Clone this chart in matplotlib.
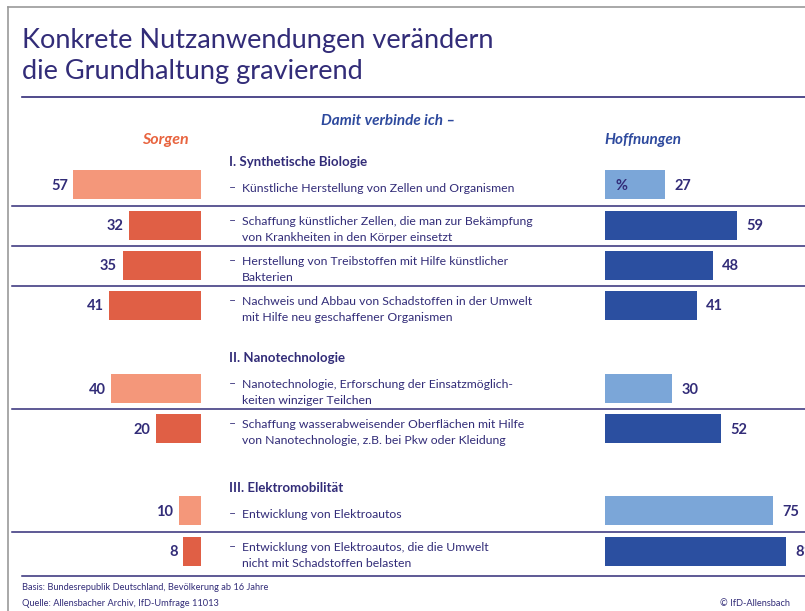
import matplotlib
matplotlib.use("Agg")
import matplotlib.pyplot as plt

plt.rcParams["font.family"] = ["Lato", "DejaVu Sans"]

# data
items = [
    "Künstliche Herstellung von Zellen und Organismen",
    "Schaffung künstlicher Zellen, die man zur Bekämpfung\nvon Krankheiten in den Körper einsetzt",
    "Herstellung von Treibstoffen mit Hilfe künstlicher\nBakterien",
    "Nachweis und Abbau von Schadstoffen in der Umwelt\nmit Hilfe neu geschaffener Organismen",
    "Nanotechnologie, Erforschung der Einsatzmöglich-\nkeiten winziger Teilchen",
    "Schaffung wasserabweisender Oberflächen mit Hilfe\nvon Nanotechnologie, z.B. bei Pkw oder Kleidung",
    "Entwicklung von Elektroautos",
    "Entwicklung von Elektroautos, die die Umwelt\nnicht mit Schadstoffen belasten",
]
sorgen = [57, 32, 35, 41, 40, 20, 10, 8]
hoffnungen = [27, 59, 48, 41, 30, 52, 75, 81]
sections = ["I. Synthetische Biologie", "II. Nanotechnologie", "III. Elektromobilität"]
section_first = [0, 4, 6]

# layout (pixels)
W, H = 805, 611
row_y = [184, 225, 265, 305, 388, 428, 510, 551]
sec_y = [162, 358, 488]
bar_h = 29
ppu = 2.24  # pixels per percent

navy = "#322c78"
blue_txt = "#2e4a9e"
orange_txt = "#e8643f"
light_or, dark_or = "#f4977a", "#e05f45"
light_bl, dark_bl = "#7ba6d8", "#2b4fa0"

fig = plt.figure(figsize=(W / 100, H / 100), dpi=100)

# overlay in pixel coords
bg = fig.add_axes([0, 0, 1, 1])
bg.set_xlim(0, W)
bg.set_ylim(H, 0)
bg.axis("off")

# frame
bg.plot([8, 8], [7, H], color="#9a9a9a", lw=1.2)
bg.plot([8, W], [7, 7], color="#9a9a9a", lw=1.2)

bg.text(22, 56, "Konkrete Nutzanwendungen verändern\ndie Grundhaltung gravierend",
        fontsize=19.5, color=navy, va="center", ha="left", linespacing=1.3)
bg.plot([22, W], [97, 97], color=navy, lw=1.2)

bg.text(388, 121, "Damit verbinde ich –", fontsize=11, color=blue_txt, fontweight="bold",
        style="italic", ha="center", va="center")
bg.text(165, 140, "Sorgen", fontsize=11.5, color=orange_txt, fontweight="bold",
        style="italic", ha="center", va="center")
bg.text(643, 140, "Hoffnungen", fontsize=11, color=blue_txt, fontweight="bold",
        style="italic", ha="center", va="center")

for name, y in zip(sections, sec_y):
    bg.text(229, y, name, fontsize=9.5, fontweight="bold", color=navy, ha="left", va="center")

for i, (txt, y) in enumerate(zip(items, row_y)):
    two = "\n" in txt
    ty = y + 4 if not two else y + 4.5
    bg.text(229, ty - (8.5 if two else 0), "–", fontsize=8.8, color=navy, ha="left", va="center")
    bg.text(242, ty, txt, fontsize=8.8, color=navy, ha="left", va="center", linespacing=1.6)
    if i not in section_first:
        sep = (row_y[i - 1] + y) / 2 + 1
        bg.plot([12, W], [sep, sep], color=navy, lw=1.1)

bg.plot([22, W], [576, 576], color=navy, lw=1.1)
bg.text(22, 587, "Basis: Bundesrepublik Deutschland, Bevölkerung ab 16 Jahre", fontsize=6.7,
        color=navy, ha="left", va="center")
bg.text(22, 603, "Quelle: Allensbacher Archiv, IfD-Umfrage 11013", fontsize=6.7,
        color=navy, ha="left", va="center")
bg.text(790, 603, "© IfD-Allensbach", fontsize=6.7, color=navy, ha="right", va="center")

# bar axes
left_px, right_px = 201, 605
span_l = 190
axl = fig.add_axes([(left_px - span_l) / W, 0, span_l / W, 1])
axl.set_xlim(span_l / ppu, 0)
axl.set_ylim(H, 0)
axl.axis("off")
span_r = W - right_px
axr = fig.add_axes([right_px / W, 0, span_r / W, 1])
axr.set_xlim(0, span_r / ppu)
axr.set_ylim(H, 0)
axr.axis("off")

cl = [light_or if i in section_first else dark_or for i in range(len(items))]
cr = [light_bl if i in section_first else dark_bl for i in range(len(items))]
axl.barh(row_y, sorgen, height=bar_h, color=cl)
axr.barh(row_y, hoffnungen, height=bar_h, color=cr)

for v, y in zip(sorgen, row_y):
    axl.text(v + 2.5, y + 1.5, str(v), fontsize=10.5, fontweight="bold", color=navy,
             ha="right", va="center")
for v, y in zip(hoffnungen, row_y):
    axr.text(v + 4, y + 1.5, str(v), fontsize=10.5, fontweight="bold", color=navy,
             ha="left", va="center", clip_on=False)
axr.text(4.5, row_y[0] + 1.5, "%", fontsize=10.5, fontweight="bold", color=navy,
         ha="left", va="center")

fig.savefig("out.png", dpi=100)
